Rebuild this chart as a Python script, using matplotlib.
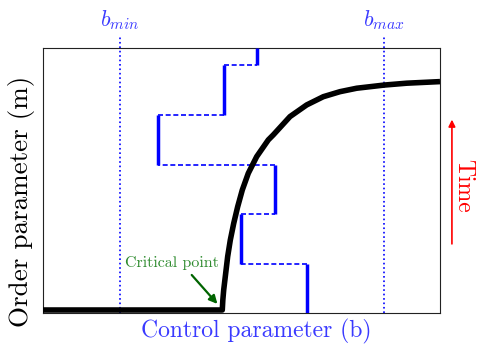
import matplotlib
matplotlib.use("Agg")
import matplotlib.pyplot as plt

plt.rcParams['font.family'] = ['cmr10', 'DejaVu Serif']
plt.rcParams['mathtext.fontset'] = 'cm'
plt.rcParams['axes.formatter.use_mathtext'] = True

# order parameter curve
curve_b = [0.0, 4.516, 4.53, 4.552, 4.602, 4.652, 4.718, 4.804, 4.904, 5.020, 5.171,
           5.383, 5.675, 5.801, 6.222, 6.642, 7.060, 7.481, 7.902, 8.597, 9.161, 10.0]
curve_m = [0.011, 0.011, 0.049, 0.087, 0.150, 0.213, 0.275, 0.338, 0.401, 0.464, 0.527,
           0.590, 0.653, 0.672, 0.741, 0.785, 0.816, 0.835, 0.848, 0.860, 0.867, 0.873]

# control parameter protocol over time
step_b = [6.65, 4.99, 5.84, 2.90, 4.56, 5.40]
step_t = [0.0, 0.185, 0.374, 0.560, 0.747, 0.934, 1.0]

b_min = 1.94
b_max = 8.59
crit = (4.44, 0.026)

fig = plt.figure(figsize=(4.83, 3.45), dpi=100)
ax = fig.add_axes([0.089, 0.093, 0.822, 0.768])
ax.set_xlim(0, 10)
ax.set_ylim(0, 1)
ax.set_xticks([])
ax.set_yticks([])
for s in ax.spines.values():
    s.set_color('#222222')

# staircase: solid verticals, dashed horizontals
for i, b in enumerate(step_b):
    ax.plot([b, b], [step_t[i], step_t[i + 1]], color='blue', lw=2.5,
            solid_capstyle='butt', zorder=3)
    if i + 1 < len(step_b):
        ax.plot([b, step_b[i + 1]], [step_t[i + 1], step_t[i + 1]], color='blue',
                lw=1.2, ls=(0, (3, 1.6)), zorder=3)

ax.plot(curve_b, curve_m, color='black', lw=4, solid_capstyle='butt',
        solid_joinstyle='round', zorder=4)

for b, lab in [(b_min, r'$b_{min}$'), (b_max, r'$b_{max}$')]:
    ax.plot([b, b], [0, 1.042], color='blue', lw=1.2, ls=':', clip_on=False)
    ax.text(b, 1.106, lab, color='#3a3aff', fontsize=16, ha='center', va='center')

ax.annotate('', xy=crit, xytext=(3.70, 0.151),
            arrowprops=dict(arrowstyle='-|>', color='#006400', lw=1.6, mutation_scale=12))
ax.text(3.25, 0.19, 'Critical point', color='#2e8b2e', fontsize=11.5,
        ha='center', va='center')

# time arrow
ax.annotate('', xy=(1.03, 0.74), xytext=(1.03, 0.25), xycoords='axes fraction',
            arrowprops=dict(arrowstyle='-|>', color='red', lw=1.2, mutation_scale=10))
ax.text(1.058, 0.48, 'Time', color='red', fontsize=17, rotation=270,
        ha='center', va='center', transform=ax.transAxes)

ax.text(0.537, -0.07, 'Control parameter (b)', color='#3a3aff', fontsize=17,
        ha='center', va='center', transform=ax.transAxes)
ax.text(-0.054, 0.421, 'Order parameter (m)', color='black', fontsize=19.5,
        rotation=90, ha='center', va='center', transform=ax.transAxes)

fig.savefig('out.png', dpi=100)
